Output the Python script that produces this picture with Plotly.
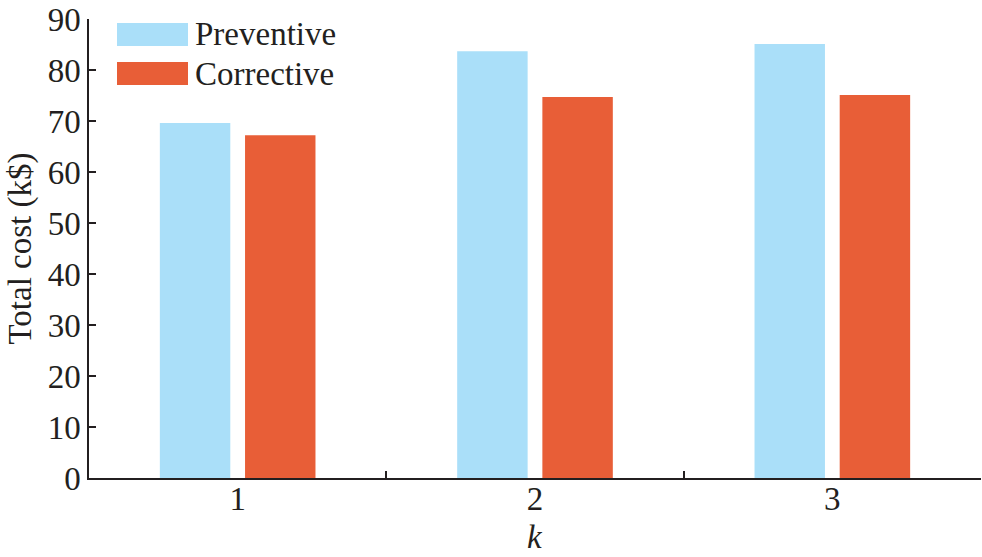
import plotly.graph_objects as go

# Data
k_values = ["1", "2", "3"]
preventive_cost = [69.6, 83.7, 85.1]
corrective_cost = [67.2, 74.7, 75.1]
y_ticks = [0, 10, 20, 30, 40, 50, 60, 70, 80, 90]

FONT = "Liberation Serif, Times New Roman, serif"
BLUE = "#aadff9"
ORANGE = "#e85e37"
AXIS = "#231f20"
FS = 33

fig = go.Figure()
fig.add_trace(go.Bar(x=k_values, y=preventive_cost, name="Preventive",
                     marker=dict(color=BLUE, line=dict(width=0))))
fig.add_trace(go.Bar(x=k_values, y=corrective_cost, name="Corrective",
                     marker=dict(color=ORANGE, line=dict(width=0))))

# Hand-made legend with wide swatches as in the reference
for i, (name, color) in enumerate([("Preventive", BLUE), ("Corrective", ORANGE)]):
    y0 = 1 - (4 + i * 39) / 459
    fig.add_shape(type="rect", xref="paper", yref="paper",
                  x0=28 / 892, x1=99 / 892, y0=y0 - 23 / 459, y1=y0,
                  fillcolor=color, line=dict(width=0))
    fig.add_annotation(xref="paper", yref="paper", x=104 / 892, y=y0 - 11.5 / 459,
                       text=name, showarrow=False, xanchor="left", yanchor="middle",
                       font=dict(family=FONT, size=FS, color=AXIS))

# axis titles placed by hand, as close to the ticks as in the reference
fig.add_annotation(xref="paper", yref="paper", x=0.5, y=0, yshift=-59,
                   text="<i>k</i>", showarrow=False, xanchor="center", yanchor="middle",
                   font=dict(family=FONT, size=FS, color=AXIS))
fig.add_annotation(xref="paper", yref="paper", x=0, y=0.5, xshift=-69,
                   text="Total cost (k$)", textangle=-90, showarrow=False,
                   xanchor="center", yanchor="middle",
                   font=dict(family=FONT, size=FS, color=AXIS))

fig.update_layout(
    width=982, height=557,
    margin=dict(l=89, r=1, t=19, b=79, autoexpand=False),
    paper_bgcolor="white", plot_bgcolor="white",
    barmode="group", bargap=0.427, bargroupgap=0.173,
    showlegend=False,
    font=dict(family=FONT, size=FS, color=AXIS),
)
fig.update_xaxes(
    type="category", tickson="boundaries", ticks="inside", ticklen=7,
    tickwidth=1.5, tickcolor=AXIS, showline=True, linecolor=AXIS, linewidth=1.5,
    showgrid=False, automargin=False, ticklabelstandoff=-9,
    tickfont=dict(size=FS),
)
fig.update_yaxes(
    range=[0, 90], tickvals=y_ticks, ticks="inside", ticklen=7,
    tickwidth=1.5, tickcolor=AXIS, showline=True, linecolor=AXIS, linewidth=1.5,
    showgrid=False, zeroline=False, automargin=False, ticklabeloverflow="allow",
    tickfont=dict(size=FS),
)

# drop the page's default 8 px body margin so the figure fills the window
fig.write_html("out.html", config={"displayModeBar": False},
               post_script="document.body.style.margin = '0';")
